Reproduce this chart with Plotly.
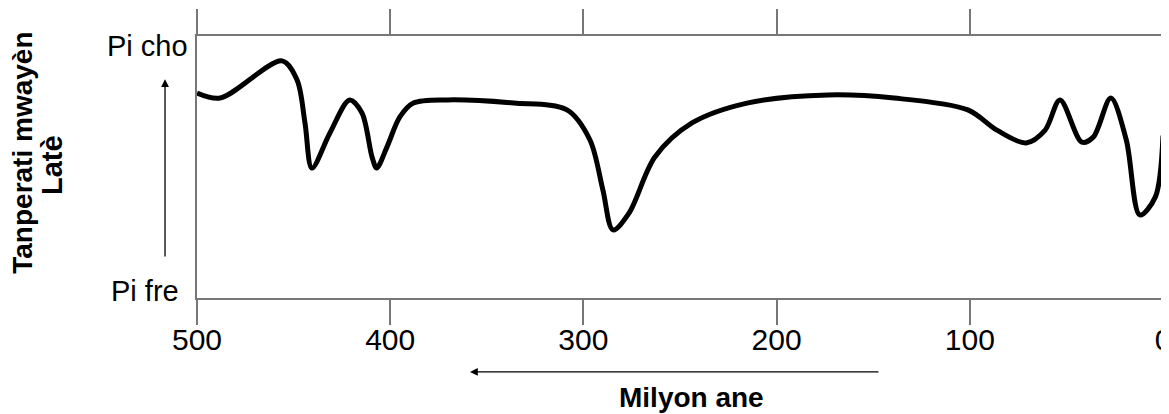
import plotly.graph_objects as go

# Average Earth temperature over the last 500 million years (0 = cold, 10 = hot)
age_ma = [500, 488, 456, 448.2, 444.1, 440.5, 431.2, 421, 414.6, 409.4, 407,
          401.7, 395, 388, 370.6, 336, 308.5, 296.6, 289.9, 284.7, 276.4, 263,
          243.8, 215.3, 173.4, 139.2, 101, 86, 70.9, 61, 53.3, 42, 36, 27, 19,
          12, 4, 0]
temp = [7.82, 7.63, 9.05, 8.32, 6.68, 4.96, 6.30, 7.56, 7.06, 5.38, 4.96,
        5.76, 6.91, 7.44, 7.56, 7.44, 7.18, 6.03, 4.12, 2.60, 3.24, 5.38,
        6.68, 7.44, 7.75, 7.63, 7.18, 6.41, 5.92, 6.41, 7.56, 5.95, 6.15,
        7.63, 6.03, 3.17, 3.85, 6.2]

x_ticks = [500, 400, 300, 200, 100, 0]

_FONT = "Liberation Sans, Arial, sans-serif"
_AXIS = "#777777"

fig = go.Figure(go.Scatter(
    x=age_ma, y=temp,
    mode="lines",
    line=dict(color="#000000", width=5, shape="spline", smoothing=0.9),
    showlegend=False,
    hoverinfo="skip",
))

# page body has an 8px margin; margins are shifted so the plot lands in place
# and the "0" label runs off the right edge like in the original
fig.update_layout(
    width=1169, height=414,
    paper_bgcolor="#FFFFFF",
    plot_bgcolor="#FFFFFF",
    font=dict(family=_FONT, color="#000000", size=29),
    margin=dict(l=189, r=14, t=28, b=124),
)

fig.update_xaxes(
    range=[500, 0], tickvals=x_ticks, ticktext=[str(v) for v in x_ticks],
    showline=True, linecolor=_AXIS, linewidth=2, mirror="ticks",
    ticks="outside", ticklen=25, tickwidth=1.5, tickcolor=_AXIS,
    showgrid=False, zeroline=False, tickfont=dict(size=30),
    ticklabelstandoff=-11, automargin=False,
)
fig.update_yaxes(
    range=[0, 10], showticklabels=False,
    showline=True, linecolor=_AXIS, linewidth=2, mirror=True,
    ticks="", showgrid=False, zeroline=False,
)

# y-axis end labels
fig.add_annotation(x=-0.0072, y=0.96, xref="x domain", yref="y domain", text="Pi cho",
                   showarrow=False, xanchor="right", yanchor="middle", font=dict(size=29))
fig.add_annotation(x=-0.0166, y=0.027, xref="x domain", yref="y domain", text="Pi fre",
                   showarrow=False, xanchor="right", yanchor="middle", font=dict(size=29))

# y-axis title (two lines)
fig.add_annotation(x=-0.181, y=0.555, xref="x domain", yref="y domain",
                   text="<b>Tanperati mwayèn</b>", textangle=-90,
                   showarrow=False, xanchor="center", yanchor="middle",
                   font=dict(size=28))
fig.add_annotation(x=-0.150, y=0.508, xref="x domain", yref="y domain",
                   text="<b>Latè</b>", textangle=-90,
                   showarrow=False, xanchor="center", yanchor="middle",
                   font=dict(size=29))

# arrow pointing to warmer
fig.add_annotation(x=-0.0331, y=0.835, ax=-0.0331, ay=0.153,
                   xref="x domain", yref="y domain", axref="x domain", ayref="y domain",
                   text="", showarrow=True, arrowhead=2, arrowsize=1.2,
                   arrowwidth=1.3, arrowcolor="#000000")

# arrow pointing back in time
fig.add_annotation(x=0.2826, y=-0.282, ax=0.707, ay=-0.282,
                   xref="x domain", yref="y domain", axref="x domain", ayref="y domain",
                   text="", showarrow=True, arrowhead=2, arrowsize=1.2,
                   arrowwidth=1.3, arrowcolor="#000000")

fig.add_annotation(x=0.512, y=-0.378, xref="x domain", yref="y domain",
                   text="<b>Milyon ane</b>", showarrow=False,
                   xanchor="center", yanchor="middle", font=dict(size=28))

fig.write_html("out.html")
